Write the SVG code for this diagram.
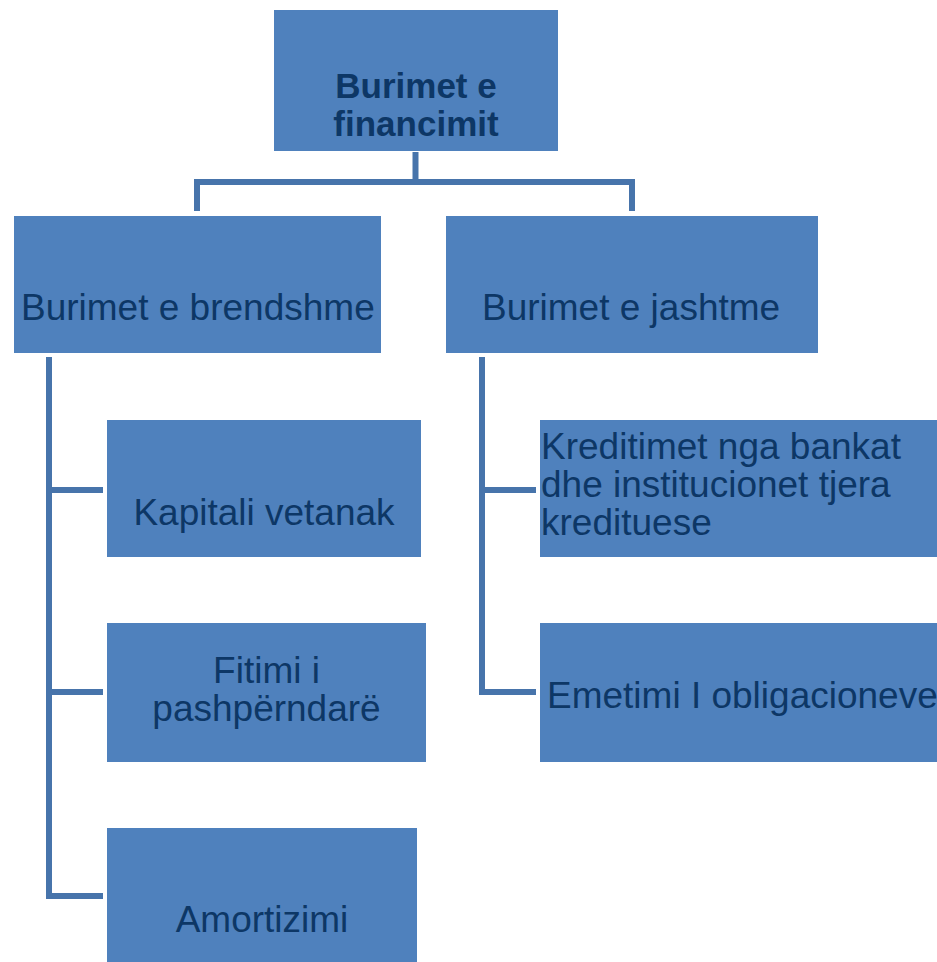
<svg xmlns="http://www.w3.org/2000/svg" width="937" height="962" viewBox="0 0 937 962">
<style>
.box{fill:#4F81BD;}
.t{font-family:"Liberation Sans",Arial,sans-serif;font-size:37px;fill:#0D3766;}
.b{font-weight:bold;font-size:35px;}
.c{text-anchor:middle;}
.ln{stroke:#4774AB;stroke-width:6;fill:none;stroke-linejoin:miter;}
</style>
<rect width="937" height="962" fill="#FFFFFF"/>
<g id="connectors">
<path class="ln" d="M415.5 152 V182"/>
<path class="ln" d="M194 182 H635"/>
<path class="ln" d="M197 182 V211"/>
<path class="ln" d="M632 182 V211"/>
<path class="ln" d="M49 357 V896 H103"/>
<path class="ln" d="M49 490 H103"/>
<path class="ln" d="M49 692 H103"/>
<path class="ln" d="M482 357 V692 H536"/>
<path class="ln" d="M482 490 H536"/>
</g>
<g id="root">
<rect class="box" x="274" y="10" width="284" height="141"/>
<text class="t b c" x="416" y="98">Burimet e</text>
<text class="t b c" x="416" y="136">financimit</text>
</g>
<g id="brendshme">
<rect class="box" x="14" y="216" width="367" height="137"/>
<text class="t" x="21" y="320">Burimet e brendshme</text>
</g>
<g id="jashtme">
<rect class="box" x="446" y="216" width="372" height="137"/>
<text class="t" x="482" y="320">Burimet e jashtme</text>
</g>
<g id="kapitali">
<rect class="box" x="107" y="420" width="314" height="137"/>
<text class="t c" x="264" y="525">Kapitali vetanak</text>
</g>
<g id="fitimi">
<rect class="box" x="107" y="623" width="319" height="139"/>
<text class="t c" x="266.5" y="683">Fitimi i</text>
<text class="t c" x="266.5" y="721">pashpërndarë</text>
</g>
<g id="amortizimi">
<rect class="box" x="107" y="828" width="310" height="134"/>
<text class="t c" x="262" y="932">Amortizimi</text>
</g>
<g id="kreditimet">
<rect class="box" x="540" y="420" width="397" height="137"/>
<text class="t" x="541" y="459">Kreditimet nga bankat</text>
<text class="t" x="541" y="497">dhe institucionet tjera</text>
<text class="t" x="541" y="535">kredituese</text>
</g>
<g id="emetimi">
<rect class="box" x="540" y="623" width="397" height="139"/>
<text class="t" x="547" y="708">Emetimi I obligacioneve</text>
</g>
</svg>
